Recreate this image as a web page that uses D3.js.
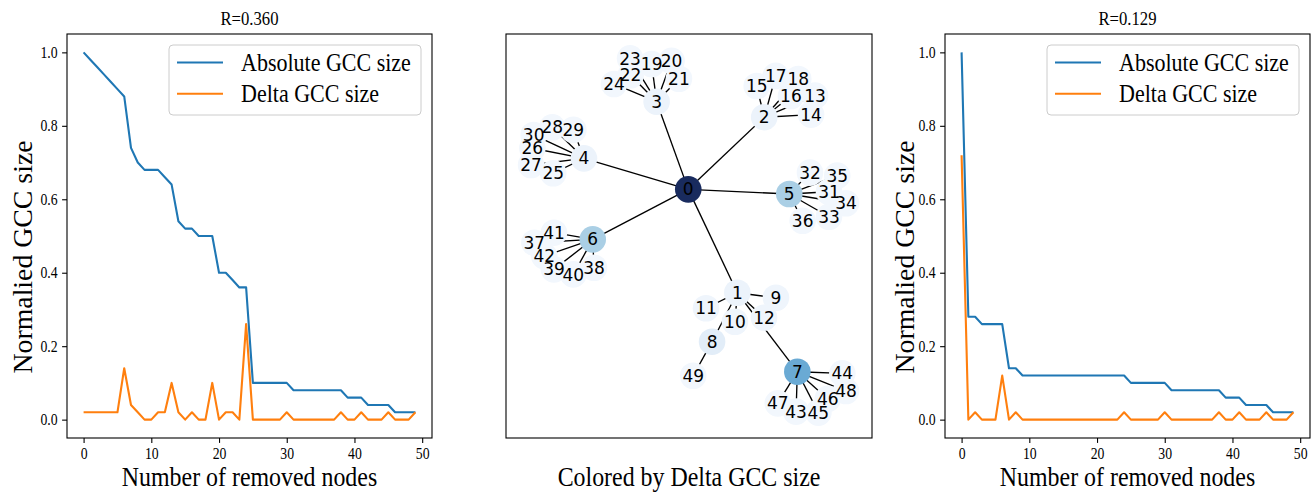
<!DOCTYPE html>
<html>
<head>
<meta charset="utf-8">
<script src="https://cdn.jsdelivr.net/npm/d3@7"></script>
<style>
  body { margin: 0; background: #fff; }
  svg { display: block; }
</style>
</head>
<body>
<svg id="fig" width="1315" height="492"></svg>
<script>
// ── data ──────────────────────────────────────────
const seriesNames = ['Absolute GCC size', 'Delta GCC size'];
const titles = ['R=0.360', 'R=0.129'];
const xTicks = [0, 10, 20, 30, 40, 50];
const yTicks = [0.0, 0.2, 0.4, 0.6, 0.8, 1.0];

const absLeft = [1.00,0.98,0.96,0.94,0.92,0.90,0.88,0.74,0.70,0.68,
                 0.68,0.68,0.66,0.64,0.54,0.52,0.52,0.50,0.50,0.50,
                 0.40,0.40,0.38,0.36,0.36,0.10,0.10,0.10,0.10,0.10,
                 0.10,0.08,0.08,0.08,0.08,0.08,0.08,0.08,0.08,0.06,
                 0.06,0.06,0.04,0.04,0.04,0.04,0.02,0.02,0.02,0.02];
const deltaLeft = [0.02,0.02,0.02,0.02,0.02,0.02,0.14,0.04,0.02,0.00,
                   0.00,0.02,0.02,0.10,0.02,0.00,0.02,0.00,0.00,0.10,
                   0.00,0.02,0.02,0.00,0.26,0.00,0.00,0.00,0.00,0.00,
                   0.02,0.00,0.00,0.00,0.00,0.00,0.00,0.00,0.02,0.00,
                   0.00,0.02,0.00,0.00,0.00,0.02,0.00,0.00,0.00,0.02];
const absRight = [1.00,0.28,0.28,0.26,0.26,0.26,0.26,0.14,0.14,0.12,
                  0.12,0.12,0.12,0.12,0.12,0.12,0.12,0.12,0.12,0.12,
                  0.12,0.12,0.12,0.12,0.12,0.10,0.10,0.10,0.10,0.10,
                  0.10,0.08,0.08,0.08,0.08,0.08,0.08,0.08,0.08,0.06,
                  0.06,0.06,0.04,0.04,0.04,0.04,0.02,0.02,0.02,0.02];
const deltaRight = [0.72,0.00,0.02,0.00,0.00,0.00,0.12,0.00,0.02,0.00,
                    0.00,0.00,0.00,0.00,0.00,0.00,0.00,0.00,0.00,0.00,
                    0.00,0.00,0.00,0.00,0.02,0.00,0.00,0.00,0.00,0.00,
                    0.02,0.00,0.00,0.00,0.00,0.00,0.00,0.00,0.02,0.00,
                    0.00,0.02,0.00,0.00,0.00,0.02,0.00,0.00,0.00,0.02];

// graph layout (node i at nodeX[i], nodeY[i])
const nodeX = [-0.004,0.264,0.411,-0.177,-0.574,0.548,-0.526,0.592,0.126,0.475,
               0.251,0.093,0.410,0.689,0.667,0.370,0.557,0.474,0.597,-0.204,
               -0.095,-0.055,-0.319,-0.322,-0.410,-0.742,-0.856,-0.863,-0.747,-0.632,
               -0.849,0.765,0.661,0.765,0.858,0.810,0.621,-0.845,-0.519,-0.738,
               -0.632,-0.738,-0.791,0.585,0.838,0.707,0.758,0.485,0.858,0.023];
const nodeY = [0.229,-0.284,0.587,0.664,0.383,0.206,-0.019,-0.676,-0.527,-0.309,
               -0.428,-0.361,-0.408,0.694,0.600,0.742,0.692,0.792,0.777,0.851,
               0.867,0.778,0.795,0.879,0.752,0.309,0.433,0.350,0.537,0.524,
               0.499,0.217,0.312,0.093,0.160,0.297,0.073,-0.036,-0.160,-0.168,
               -0.193,0.014,-0.102,-0.874,-0.684,-0.879,-0.811,-0.833,-0.772,-0.696];
const nodeShade = [1.00,0.04,0.04,0.04,0.04,0.33,0.33,0.50,0.10,0.02,
                   0.02,0.02,0.02,0.00,0.00,0.00,0.00,0.00,0.00,0.00,
                   0.00,0.00,0.00,0.00,0.00,0.00,0.00,0.00,0.00,0.00,
                   0.00,0.00,0.00,0.00,0.00,0.00,0.00,0.00,0.00,0.00,
                   0.00,0.00,0.00,0.00,0.00,0.00,0.00,0.00,0.00,0.00];
const edges = [[0,1],[0,2],[0,3],[0,4],[0,5],[0,6],
               [1,7],[1,8],[1,9],[1,10],[1,11],[1,12],
               [2,13],[2,14],[2,15],[2,16],[2,17],[2,18],
               [3,19],[3,20],[3,21],[3,22],[3,23],[3,24],
               [4,25],[4,26],[4,27],[4,28],[4,29],[4,30],
               [5,31],[5,32],[5,33],[5,34],[5,35],[5,36],
               [6,37],[6,38],[6,39],[6,40],[6,41],[6,42],
               [7,43],[7,44],[7,45],[7,46],[7,47],[7,48],
               [8,49]];

// ── layout ────────────────────────────────────────
const SERIF = '"Liberation Serif", "Times New Roman", serif';
const SANS = '"DejaVu Sans", sans-serif';
const SX = 0.86;            // serif text in the figure is horizontally narrow
const TOP = 34, BOT = 438;
const BLUE = '#1f77b4', ORANGE = '#ff7f0e';

const svg = d3.select('#fig');

function serifText(g, txt, x, y, size, rot, sx = SX) {
  return g.append('text')
    .attr('transform', `translate(${x},${y}) scale(${sx},1)` + (rot ? ` rotate(${rot})` : ''))
    .attr('font-family', SERIF).attr('font-size', size)
    .attr('text-anchor', 'middle').attr('fill', '#000')
    .text(txt);
}

function linePanel(x0, x1, absV, deltaV, title, ylabX) {
  const g = svg.append('g');
  const x = d3.scaleLinear().domain([-2.45, 51.45]).range([x0, x1]);
  const y = d3.scaleLinear().domain([-0.05, 1.05]).range([BOT, TOP]);

  const xa = g.append('g').attr('transform', `translate(0,${BOT})`)
    .call(d3.axisBottom(x).tickValues(xTicks).tickSizeOuter(0).tickSize(4.9).tickPadding(4.5));
  const ya = g.append('g').attr('transform', `translate(${x0},0)`)
    .call(d3.axisLeft(y).tickValues(yTicks).tickFormat(d3.format('.1f')).tickSizeOuter(0).tickSize(4.9).tickPadding(4.5));
  [xa, ya].forEach(a => {
    a.select('.domain').remove();
    a.selectAll('line').attr('stroke', '#000').attr('stroke-width', 1.1);
    a.selectAll('text').attr('font-family', SERIF).attr('font-size', 16).attr('fill', '#000');
  });
  xa.selectAll('text').attr('transform', `scale(${SX},1)`);
  ya.selectAll('text').attr('x', -9.4 / SX).attr('transform', `scale(${SX},1)`);

  const line = d3.line().x((d, i) => x(i)).y(d => y(d));
  g.append('path').datum(absV).attr('d', line)
    .attr('fill', 'none').attr('stroke', BLUE).attr('stroke-width', 2.1).attr('stroke-linejoin', 'round');
  g.append('path').datum(deltaV).attr('d', line)
    .attr('fill', 'none').attr('stroke', ORANGE).attr('stroke-width', 2.1).attr('stroke-linejoin', 'round');

  g.append('rect').attr('x', x0).attr('y', TOP).attr('width', x1 - x0).attr('height', BOT - TOP)
    .attr('fill', 'none').attr('stroke', '#000').attr('stroke-width', 1.1);

  // legend
  const lx = x1 - 263, ly = TOP + 11;
  const lg = g.append('g').attr('transform', `translate(${lx},${ly})`);
  lg.append('rect').attr('width', 252).attr('height', 70).attr('rx', 4)
    .attr('fill', '#fff').attr('fill-opacity', 0.8).attr('stroke', '#cccccc').attr('stroke-width', 1);
  [BLUE, ORANGE].forEach((c, i) => {
    const yy = 17.5 + i * 31.3;
    lg.append('line').attr('x1', 8).attr('x2', 54).attr('y1', yy).attr('y2', yy)
      .attr('stroke', c).attr('stroke-width', 2.1);
    serifText(lg, seriesNames[i], 72, yy + 8.3, 25.6).attr('text-anchor', 'start');
  });

  serifText(g, title, (x0 + x1) / 2, 25, 19.4);
  serifText(g, 'Number of removed nodes', (x0 + x1) / 2, 486, 27.8);
  serifText(g, 'Normalied GCC size', ylabX, 257, 27.8, -90, 1);
}

linePanel(67, 432, absLeft, deltaLeft, titles[0], 32);
linePanel(945, 1310, absRight, deltaRight, titles[1], 914);

// ── middle: network ───────────────────────────────
(function networkPanel() {
  const x0 = 506, x1 = 872;
  const g = svg.append('g');
  const x = d3.scaleLinear().domain([-1, 1]).range([x0, x1]);
  const y = d3.scaleLinear().domain([-1, 1]).range([437, TOP]);
  const color = d3.scaleLinear().domain([0, 0.1, 0.33, 0.5, 1])
    .range(['#f2f7fd', '#e2edf8', '#aacfe5', '#6aaad4', '#192b5e']);

  const nodes = nodeX.map((nx, i) => ({ id: i, x: nx, y: nodeY[i], s: nodeShade[i] }));

  g.selectAll('line.edge').data(edges).enter().append('line').attr('class', 'edge')
    .attr('x1', d => x(nodes[d[0]].x)).attr('y1', d => y(nodes[d[0]].y))
    .attr('x2', d => x(nodes[d[1]].x)).attr('y2', d => y(nodes[d[1]].y))
    .attr('stroke', '#000').attr('stroke-width', 1.35);

  g.selectAll('circle.node').data(nodes).enter().append('circle').attr('class', 'node')
    .attr('cx', d => x(d.x)).attr('cy', d => y(d.y)).attr('r', 13.3)
    .attr('fill', d => color(d.s));

  g.selectAll('text.lbl').data(nodes).enter().append('text').attr('class', 'lbl')
    .attr('x', d => x(d.x)).attr('y', d => y(d.y))
    .attr('dy', '0.36em')
    .attr('text-anchor', 'middle')
    .attr('font-family', SANS).attr('font-size', 17).attr('fill', '#000')
    .text(d => d.id);

  g.append('rect').attr('x', x0).attr('y', TOP).attr('width', x1 - x0).attr('height', BOT - TOP)
    .attr('fill', 'none').attr('stroke', '#000').attr('stroke-width', 1.1);

  serifText(g, 'Colored by Delta GCC size', (x0 + x1) / 2, 486, 27.8);
})();
</script>
</body>
</html>
